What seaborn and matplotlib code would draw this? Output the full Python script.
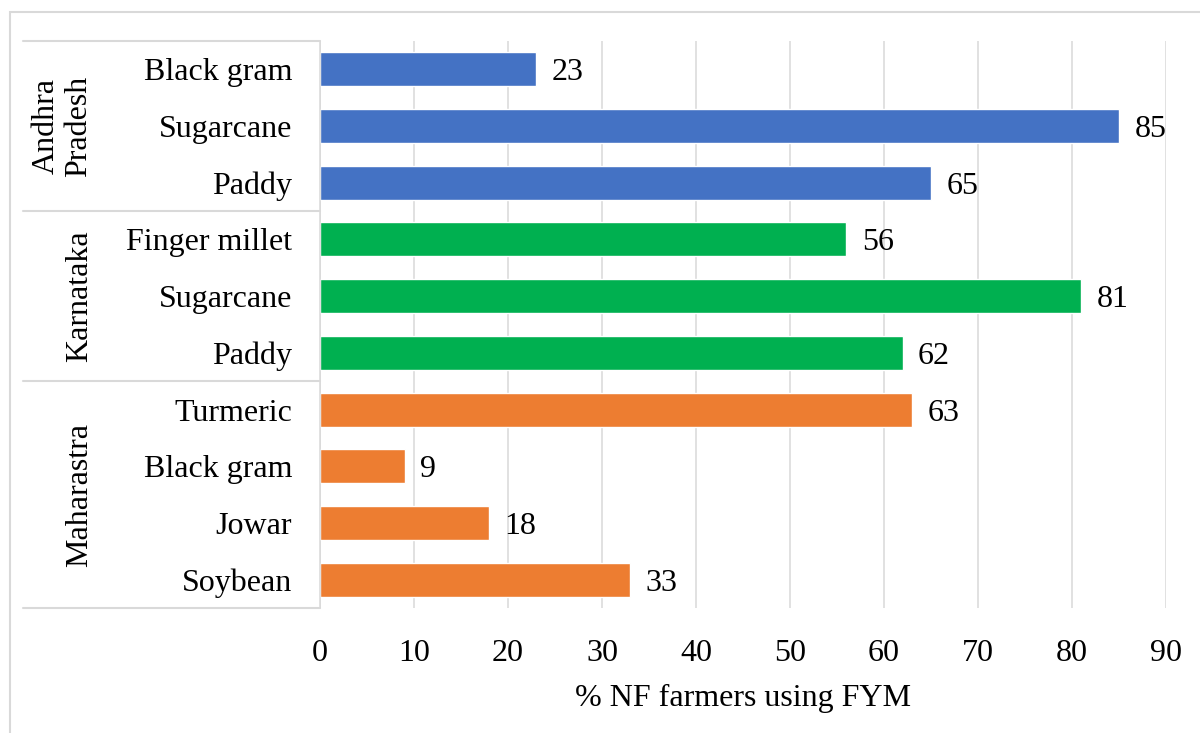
import matplotlib
matplotlib.use("Agg")
import matplotlib.pyplot as plt
from matplotlib.patches import Rectangle
from matplotlib.lines import Line2D
import seaborn as sns
import pandas as pd

# Data: share of natural-farming farmers using farmyard manure, by state and crop
states = ["Andhra Pradesh", "Karnataka", "Maharastra"]
state_labels = ["Andhra\nPradesh", "Karnataka", "Maharastra"]
crops_ap = ["Black gram", "Sugarcane", "Paddy"]
values_ap = [23, 85, 65]
crops_ka = ["Finger millet", "Sugarcane", "Paddy"]
values_ka = [56, 81, 62]
crops_mh = ["Turmeric", "Black gram", "Jowar", "Soybean"]
values_mh = [63, 9, 18, 33]
state_colors = ["#4472C4", "#00B050", "#ED7D31"]
x_ticks = [0, 10, 20, 30, 40, 50, 60, 70, 80, 90]
x_label = "% NF farmers using FYM"

groups = [(crops_ap, values_ap), (crops_ka, values_ka), (crops_mh, values_mh)]
rows = []
for state, (crops, vals) in zip(states, groups):
    for c, v in zip(crops, vals):
        rows.append({"key": f"{state}|{c}", "crop": c, "state": state, "value": v})
df = pd.DataFrame(rows)

sns.set_theme(style="white")
plt.rcParams["font.family"] = ["Liberation Serif", "DejaVu Serif"]
plt.rcParams["text.color"] = "black"
plt.rcParams["xtick.color"] = "black"
plt.rcParams["ytick.color"] = "black"
plt.rcParams["axes.labelcolor"] = "black"

FS = 23
W, H = 1200, 733
fig = plt.figure(figsize=(W / 100, H / 100), dpi=100)
ax = fig.add_axes([320 / W, 125 / H, 846 / W, 567 / H])

sns.barplot(data=df, y="key", x="value", hue="state", order=list(df["key"]),
            palette=state_colors, dodge=False, width=0.6, legend=False,
            saturation=1, ax=ax)

grid_c = "#D9D9D9"
ax.set_xlim(0, 90)
ax.set_ylim(len(df) - 0.5, -0.5)
ax.set_xticks(x_ticks)
ax.set_xticklabels([str(t) for t in x_ticks], fontsize=FS)
ax.set_yticks(range(len(df)))
ax.set_yticklabels(df["crop"], fontsize=FS)
ax.tick_params(axis="x", length=0, pad=22)
ax.tick_params(axis="y", length=0, pad=20)
ax.set_xlabel(x_label, fontsize=FS, labelpad=12)
ax.set_ylabel("")
ax.xaxis.grid(True, color=grid_c, linewidth=1.1)
ax.set_axisbelow(True)
for s in ["top", "right", "bottom"]:
    ax.spines[s].set_visible(False)
ax.spines["left"].set_color(grid_c)
ax.spines["left"].set_linewidth(1.1)

for cont in ax.containers:
    labels = ax.bar_label(cont, fmt="%d", padding=11, fontsize=FS)
    for t in labels:
        t.set_va("center_baseline")

# Group table lines and state labels on the left
tr = ax.get_yaxis_transform()
x_left = (23 - 320) / 846
bounds = [-0.5, 2.5, 5.5, len(df) - 0.5]
for b in bounds:
    ax.add_line(Line2D([x_left, 0], [b, b], transform=tr, color=grid_c,
                       linewidth=1.5, clip_on=False))
label_x = [(62 - 320) / 846, (80 - 320) / 846, (80 - 320) / 846]
for lab, lx, lo, hi in zip(state_labels, label_x, bounds[:-1], bounds[1:]):
    ax.text(lx, (lo + hi) / 2, lab, transform=tr, rotation=90, ha="center",
            va="center", fontsize=FS, linespacing=1.15)

# Chart frame
fig.patches.append(Rectangle((10 / W, -0.01), 1.0, (H - 12) / H + 0.01,
                             transform=fig.transFigure, fill=False,
                             edgecolor=grid_c, linewidth=1.5))

fig.savefig("out.png", dpi=100)
